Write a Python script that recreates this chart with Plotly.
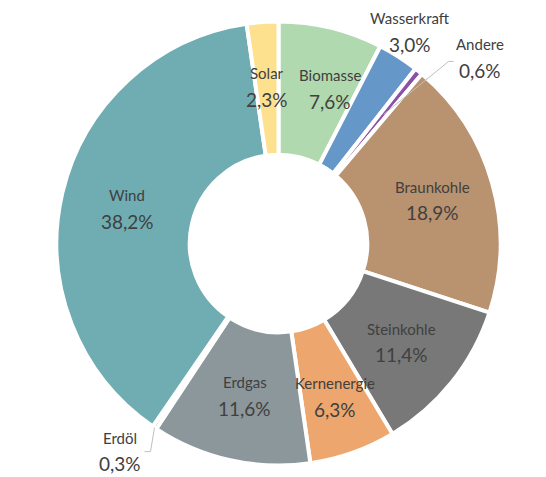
import math
import plotly.graph_objects as go

labels = ["Biomasse", "Wasserkraft", "Andere", "Braunkohle", "Steinkohle",
          "Kernenergie", "Erdgas", "Erdöl", "Wind", "Solar"]
values = [7.6, 3.0, 0.6, 18.9, 11.4, 6.3, 11.6, 0.3, 38.2, 2.3]
colors = ["#B1D9AF", "#6597C9", "#8B50A8", "#B9926F", "#787878",
          "#EDA66D", "#8C979C", "#333333", "#6FADB3", "#FDE18F"]

W, H = 546, 477
OFF = 8  # page body margin
CX, CY, R = 278.5 - OFF, 243.5 - OFF, 222.0
HOLE = 0.40

# label placement style: (mode, radius fraction, dx px, dy px)
style = {
    "Biomasse": ("in", 0.72, 14, 0),
    "Wasserkraft": ("out", 1.0, 0, 0),
    "Andere": ("lead", 0, 0, 0),
    "Braunkohle": ("in", 0.72, 0, 0),
    "Steinkohle": ("in", 0.71, 0, 0),
    "Kernenergie": ("in", 0.73, 2, 0),
    "Erdgas": ("in", 0.70, 0, 0),
    "Erdöl": ("lead", 0, 0, 0),
    "Wind": ("in", 0.70, 0, 0),
    "Solar": ("in", 0.71, 0, 0),
}

def px(x):
    return x / W

def py(y):
    return 1 - y / H

def polar(frac_angle, r):
    a = 2 * math.pi * frac_angle
    return CX + r * math.sin(a), CY - r * math.cos(a)

fig = go.Figure(go.Pie(
    labels=labels, values=values, sort=False, direction="clockwise", rotation=0,
    hole=HOLE, textinfo="none", hoverinfo="label+percent",
    marker=dict(colors=colors, line=dict(color="white", width=4)),
    domain=dict(x=[px(CX - R), px(CX + R)], y=[py(CY + R), py(CY - R)]),
    showlegend=False,
))

FONT = "Lato, Open Sans, sans-serif"
TXT = "#404040"
total = sum(values)
cum = 0.0
annotations = []
shapes = []
for lab, v in zip(labels, values):
    mid = (cum + v / 2) / total
    cum += v
    mode, rf, dx, dy = style[lab]
    pct = f"{v:.1f}".replace(".", ",") + "%"
    if mode == "in":
        x, y = polar(mid, rf * R)
        x += dx
        y += dy
    elif mode == "out":
        x, y = polar(mid, R + 22)
        y -= 7
    else:
        if lab == "Andere":
            x0, y0 = polar(mid, 0.75 * R)
            x1, y1 = x0 + 65, y0 - 53
            x2, y2 = x1 + 5, y1
            x, y = x2 + 26, y2 - 4
        else:
            x0, y0 = polar(mid, 1.0 * R)
            x1, y1 = x0 - 4, y0 + 24
            x2, y2 = x1 - 6, y1
            x, y = x2 - 25, y2 - 1
        shapes.append(dict(type="path", xref="paper", yref="paper",
                           path=f"M {px(x0)},{py(y0)} L {px(x1)},{py(y1)} L {px(x2)},{py(y2)}",
                           line=dict(color="#BFBFBF", width=1)))
    annotations.append(dict(x=px(x), y=py(y - 13), xref="paper", yref="paper",
                            text=lab, showarrow=False,
                            xanchor="center", yanchor="middle",
                            font=dict(family=FONT, color=TXT, size=15)))
    annotations.append(dict(x=px(x), y=py(y + 13), xref="paper", yref="paper",
                            text=pct, showarrow=False,
                            xanchor="center", yanchor="middle",
                            font=dict(family=FONT, color=TXT, size=19)))

fig.update_layout(
    width=W, height=H, margin=dict(l=0, r=0, t=0, b=0),
    paper_bgcolor="white", plot_bgcolor="white",
    annotations=annotations, shapes=shapes,
    font=dict(family=FONT),
)
fig.write_html("out.html")
